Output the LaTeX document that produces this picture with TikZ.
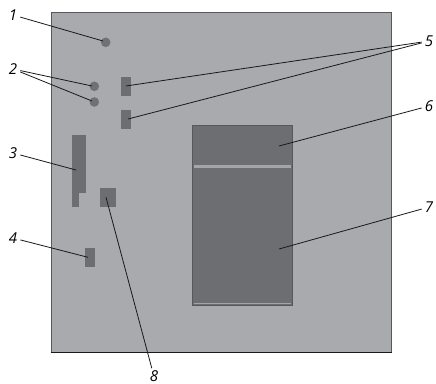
\documentclass[tikz,border=0pt]{standalone}
\usepackage{fontspec}
\setmainfont{Open Sans}
\definecolor{boardgray}{HTML}{A9AAAD}
\definecolor{partgray}{HTML}{6D6E71}
\definecolor{edgegray}{HTML}{58585A}
\definecolor{stripgray}{HTML}{A4A5A8}
\tikzset{
	part/.style={fill=partgray,draw=none,inner sep=0pt,outer sep=0pt},
	pin/.style={part,circle,minimum size=9.6pt,fill=partgray!95!boardgray},
	num/.style={font=\fontsize{15}{15}\selectfont\itshape,inner sep=3pt},
	leader/.style={draw=black!90,line width=0.8pt}
}
\begin{document}
\begin{tikzpicture}[scale=0.03514]
	\useasboundingbox (0,0) rectangle (436,-384);
	% board
	\fill [boardgray] (51,-12.5) rectangle (391,-352);
	\draw [edgegray,line width=1pt] (51,-352) -- (51,-12.5) -- (391,-12.5) -- (391,-352);
	\draw [black!90,line width=0.9pt] (50.5,-352) -- (391.5,-352);
	% parts
	\node [pin] (hole1) at (105.7,-42.3) {};
	\node [pin] (hole2) at (94.3,-86.3) {};
	\node [pin] (hole3) at (94.3,-102) {};
	\node [part,minimum width=10pt,minimum height=18.7pt] (slot1) at (126,-86.3) {};
	\node [part,minimum width=10pt,minimum height=18.7pt] (slot2) at (126,-119.3) {};
	\node [part,minimum width=14.3pt,minimum height=57.7pt] (conn) at (78.9,-164.2) {};
	\node [part,minimum width=7.3pt,minimum height=14pt] (connfoot) at (75.35,-200) {};
	\node [part,minimum width=16pt,minimum height=19pt] (chip) at (108,-197.5) {};
	\node [part,minimum width=10pt,minimum height=19pt] (jumper) at (90,-257.5) {};
	% panel
	\draw [fill=partgray,draw=edgegray,line width=1pt] (192.8,-125.5) rectangle (292,-305);
	\node [part,fill=stripgray,minimum width=97pt,minimum height=3pt] (strip) at (242.4,-166.5) {};
	\draw [stripgray,line width=1pt] (193.5,-303.6) -- (291.3,-303.6);
	% leader ends
	\coordinate (end1) at (103,-41);
	\coordinate (end2) at (92,-86);
	\coordinate (end3) at (92,-101);
	\coordinate (end4) at (76,-170);
	\coordinate (end5) at (88,-257.3);
	\coordinate (end6) at (126,-86);
	\coordinate (end7) at (128,-119);
	\coordinate (end8) at (279,-146);
	\coordinate (end9) at (279,-249);
	\coordinate (end10) at (106,-197.3);
	% labels
	\node [num] (one) at (13,-15) {1};
	\node [num] (two) at (13,-69) {2};
	\node [num] (three) at (13,-153) {3};
	\node [num] (four) at (13,-238) {4};
	\node [num] (five) at (429,-41) {5};
	\node [num] (six) at (429,-106) {6};
	\node [num] (seven) at (429,-207) {7};
	\node [num,inner sep=0.5pt] (eight) at (154,-376.5) {8};
	% leaders
	\draw [leader] (one) -- (end1);
	\draw [leader] (two) -- (end2);
	\draw [leader] (two) -- (end3);
	\draw [leader] (three) -- (end4);
	\draw [leader] (four) -- (end5);
	\draw [leader] (five) -- (end6);
	\draw [leader] (five) -- (end7);
	\draw [leader] (six) -- (end8);
	\draw [leader] (seven) -- (end9);
	\draw [leader,shorten <=2pt] (eight) -- (end10);
\end{tikzpicture}
\end{document}
